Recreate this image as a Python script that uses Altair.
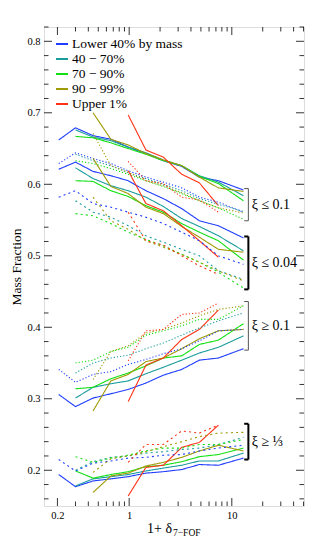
import altair as alt
import pandas as pd

# ---------------- data ----------------
X = [0.206, 0.300, 0.445, 0.663, 0.978, 1.456, 2.15, 3.25, 4.83, 7.40, 12.98]

POPS = ["Lower 40% by mass", "40 − 70%", "70 − 90%", "90 − 99%", "Upper 1%"]
COLORS = ["#1f3dff", "#1a9c9c", "#12e012", "#9f9a05", "#ff3215"]

N = None
# xi <= 0.1 (thin, solid)   order: blue, teal, green, olive, red
le01_solid = [
    [0.662, 0.679, 0.668, 0.663, 0.652, 0.643, 0.633, 0.625, 0.610, 0.605, 0.592],
    [N, 0.676, 0.666, 0.661, 0.652, 0.644, 0.634, 0.626, 0.612, 0.603, 0.584],
    [N, 0.667, 0.665, 0.658, 0.650, 0.642, 0.633, 0.626, 0.611, 0.601, 0.577],
    [N, N, 0.700, 0.663, 0.655, 0.643, 0.634, 0.626, 0.610, 0.595, 0.590],
    [N, N, N, N, 0.697, 0.648, 0.638, 0.614, 0.602, 0.570, N],
]
# xi <= 0.1 (thin, dotted)
le01_dot = [
    [0.629, 0.644, 0.636, 0.629, 0.619, 0.610, 0.603, 0.595, 0.582, 0.575, 0.561],
    [N, 0.642, 0.633, 0.626, 0.616, 0.608, 0.600, 0.591, 0.580, 0.572, 0.562],
    [N, 0.633, 0.629, 0.622, 0.614, 0.605, 0.597, 0.587, 0.577, 0.567, 0.551],
    [N, N, 0.671, 0.626, 0.617, 0.605, 0.598, 0.588, 0.577, 0.567, 0.560],
    [N, N, N, N, 0.632, 0.605, 0.601, 0.582, 0.578, 0.561, N],
]
# xi <= 0.04 (thick, solid)
le004_solid = [
    [0.621, 0.631, 0.618, 0.612, 0.605, 0.591, 0.580, 0.566, 0.549, 0.542, 0.525],
    [N, 0.623, 0.608, 0.598, 0.591, 0.582, 0.569, 0.552, 0.541, 0.528, 0.507],
    [N, 0.605, 0.604, 0.591, 0.583, 0.570, 0.561, 0.545, 0.533, 0.521, 0.494],
    [N, N, 0.636, 0.597, 0.587, 0.568, 0.559, 0.541, 0.526, 0.509, 0.505],
    [N, N, N, N, 0.619, 0.573, 0.563, 0.542, 0.521, 0.498, N],
]
# xi <= 0.04 (thick, dotted)
le004_dot = [
    [0.582, 0.591, 0.573, 0.568, 0.561, 0.554, 0.545, 0.533, 0.521, 0.500, 0.488],
    [N, 0.577, 0.561, 0.554, 0.542, 0.528, 0.519, 0.509, 0.500, 0.479, 0.467],
    [N, 0.559, 0.556, 0.545, 0.533, 0.523, 0.514, 0.502, 0.491, 0.477, 0.455],
    [N, N, 0.582, 0.549, 0.537, 0.521, 0.512, 0.502, 0.491, 0.479, 0.465],
    [N, N, N, N, 0.561, 0.521, 0.515, 0.500, 0.486, 0.474, N],
]
# xi >= 0.1 (thin, solid)
ge01_solid = [
    [0.306, 0.289, 0.301, 0.307, 0.313, 0.322, 0.333, 0.341, 0.354, 0.357, 0.370],
    [N, 0.301, 0.316, 0.321, 0.325, 0.335, 0.344, 0.354, 0.364, 0.372, 0.388],
    [N, 0.314, 0.316, 0.328, 0.336, 0.346, 0.357, 0.360, 0.376, 0.382, 0.405],
    [N, N, 0.283, 0.325, 0.334, 0.352, 0.357, 0.370, 0.384, 0.395, 0.397],
    [N, N, N, N, 0.296, 0.347, 0.357, 0.383, 0.397, 0.424, N],
]
# xi >= 0.1 (thin, dotted)
ge01_dot = [
    [0.341, 0.323, 0.334, 0.338, 0.348, 0.355, 0.363, 0.370, 0.381, 0.395, 0.397],
    [N, 0.336, 0.350, 0.357, 0.361, 0.370, 0.378, 0.389, 0.399, 0.409, 0.420],
    [N, 0.350, 0.354, 0.366, 0.372, 0.389, 0.395, 0.402, 0.411, 0.411, 0.430],
    [N, N, 0.327, 0.366, 0.374, 0.392, 0.397, 0.406, 0.416, 0.425, 0.430],
    [N, N, N, N, 0.353, 0.395, 0.397, 0.418, 0.420, 0.434, N],
]
# xi >= 1/3 (thick, solid)
ge13_solid = [
    [0.194, 0.177, 0.185, 0.188, 0.191, 0.196, 0.198, 0.201, 0.208, 0.207, 0.217],
    [N, 0.178, 0.188, 0.191, 0.194, 0.199, 0.203, 0.207, 0.213, 0.213, 0.224],
    [N, 0.199, 0.189, 0.194, 0.198, 0.205, 0.207, 0.212, 0.219, 0.222, 0.231],
    [N, N, 0.169, 0.192, 0.196, 0.206, 0.211, 0.218, 0.227, 0.235, 0.227],
    [N, N, N, N, 0.164, 0.204, 0.207, 0.232, 0.239, 0.263, N],
]
# xi >= 1/3 (thick, dotted)
ge13_dot = [
    [0.215, 0.199, 0.210, 0.213, 0.217, 0.218, 0.221, 0.222, 0.227, 0.231, 0.235],
    [N, 0.200, 0.212, 0.218, 0.220, 0.224, 0.226, 0.229, 0.231, 0.236, 0.246],
    [N, 0.219, 0.211, 0.217, 0.221, 0.227, 0.231, 0.231, 0.236, 0.236, 0.243],
    [N, N, 0.197, 0.216, 0.220, 0.226, 0.233, 0.240, 0.247, 0.252, 0.253],
    [N, N, N, N, 0.211, 0.236, 0.236, 0.255, 0.252, 0.263, N],
]

BRACKET_LABELS = ["ξ ≤ 0.1", "ξ ≤ 0.04", "ξ ≥ 0.1", "ξ ≥ ⅓"]
Y_TICKS = [0.2, 0.3, 0.4, 0.5, 0.6, 0.7, 0.8]
X_TICKS = [0.2, 1, 10]

# ---------------- build tables ----------------
GROUPS = [
    (0, "thin", "solid", le01_solid), (0, "thin", "dot", le01_dot),
    (1, "thick", "solid", le004_solid), (1, "thick", "dot", le004_dot),
    (2, "thin", "solid", ge01_solid), (2, "thin", "dot", ge01_dot),
    (3, "thick", "solid", ge13_solid), (3, "thick", "dot", ge13_dot),
]
KINDS = ["thin-solid", "thin-dot", "thick-solid", "thick-dot"]

rows = []
ends = {0: [], 1: [], 2: [], 3: []}
for b, w, s, series in GROUPS:
    for pop, ys in zip(POPS, series):
        last = None
        for i, (x, y) in enumerate(zip(X, ys)):
            if y is not None:
                rows.append(dict(x=x, y=y, pop=pop, kind=f"{w}-{s}",
                                 sid=f"{b}-{s}-{pop}", i=i))
                last = y
        ends[b].append(last)
df = pd.DataFrame(rows)

br = pd.DataFrame({
    "label": BRACKET_LABELS,
    "top": [max(ends[k]) + 0.002 for k in range(4)],
    "bot": [min(ends[k]) - 0.002 for k in range(4)],
    "heavy": [0, 1, 0, 1],
})
br["mid"] = (br["top"] + br["bot"]) / 2
br["x0"] = 13.2
br["x1"] = 14.5
br["xt"] = 15.6

y_minor = [round(0.16 + 0.02 * k, 2) for k in range(34)]
y_minor = [v for v in y_minor if v not in Y_TICKS and v <= 0.82]
x_minor = [0.3, 0.4, 0.5, 0.6, 0.7, 0.8, 0.9, 2, 3, 4, 5, 6, 7, 8, 9, 20, 30, 40, 50]

W, H = 260, 479
FONT = "Liberation Serif"
xs = alt.Scale(type="log", domain=[0.148, 50.5], nice=False)
ys = alt.Scale(domain=[0.15, 0.82], nice=False, zero=False)

XAXIS = alt.Axis(
    values=X_TICKS, title=None, ticks=False, tickSize=0, domain=False, grid=False,
    labelExpr="datum.value < 1 ? format(datum.value, '.1f') : format(datum.value, 'd')",
    labelFont=FONT, labelFontSize=10.5, labelColor="black", labelPadding=4)
YAXIS = alt.Axis(
    values=Y_TICKS, format=".1f", title="Mass Fraction", ticks=False, tickSize=0,
    domain=False, grid=False, labelFont=FONT, labelFontSize=10.5,
    labelColor="black", labelPadding=4, titleFont=FONT, titleFontSize=13.5,
    titleFontWeight="normal", titleColor="black", titlePadding=3)

lines = alt.Chart(df).mark_line(strokeCap="butt").encode(
    x=alt.X("x:Q", scale=xs, axis=XAXIS),
    y=alt.Y("y:Q", scale=ys, axis=YAXIS),
    color=alt.Color("pop:N", scale=alt.Scale(domain=POPS, range=COLORS),
                    legend=alt.Legend(title=None, orient="none", legendX=11, legendY=10,
                                      symbolType="stroke", symbolSize=144,
                                      symbolStrokeWidth=2, labelFont=FONT,
                                      labelFontSize=13.5, labelColor="black",
                                      rowPadding=1, labelOffset=3, padding=0,
                                      labelLimit=250)),
    strokeDash=alt.StrokeDash("kind:N", scale=alt.Scale(
        domain=KINDS, range=[[1, 0], [1.2, 2], [1, 0], [2, 3.2]]), legend=None),
    strokeWidth=alt.StrokeWidth("kind:N", scale=alt.Scale(
        domain=KINDS, range=[1.1, 1.1, 2.2, 2.2]), legend=None),
    detail="sid:N",
    order="i:Q",
)


def yticks(vals, length):
    d = pd.DataFrame({"v": vals})
    base = alt.Chart(d).mark_rule(color="black", strokeWidth=0.8)
    left = base.encode(y=alt.Y("v:Q", scale=ys, axis=YAXIS),
                       x=alt.value(0), x2=alt.value(length))
    right = base.encode(y=alt.Y("v:Q", scale=ys, axis=YAXIS),
                        x=alt.value(W - length), x2=alt.value(W))
    return [left, right]


def xticks(vals, length):
    d = pd.DataFrame({"v": vals})
    base = alt.Chart(d).mark_rule(color="black", strokeWidth=0.8)
    bottom = base.encode(x=alt.X("v:Q", scale=xs, axis=XAXIS),
                         y=alt.value(H - length), y2=alt.value(H))
    top = base.encode(x=alt.X("v:Q", scale=xs, axis=XAXIS),
                      y=alt.value(0), y2=alt.value(length))
    return [bottom, top]


ticks = yticks(Y_TICKS, 8) + yticks(y_minor, 4.5) + xticks(X_TICKS, 8) + xticks(x_minor, 4.5)


def bracket(heavy, color, width):
    base = alt.Chart(br).transform_filter(alt.datum.heavy == heavy).mark_rule(
        color=color, strokeWidth=width)
    vert = base.encode(x=alt.X("x1:Q", scale=xs, axis=XAXIS),
                       y=alt.Y("top:Q", scale=ys, axis=YAXIS), y2="bot:Q")
    top = base.encode(x=alt.X("x0:Q", scale=xs, axis=XAXIS), x2="x1:Q",
                      y=alt.Y("top:Q", scale=ys, axis=YAXIS))
    bot = base.encode(x=alt.X("x0:Q", scale=xs, axis=XAXIS), x2="x1:Q",
                      y=alt.Y("bot:Q", scale=ys, axis=YAXIS))
    return [vert, top, bot]


brackets = bracket(0, "#555555", 1.0) + bracket(1, "black", 2.0)
b_text = alt.Chart(br).mark_text(align="left", baseline="middle", font=FONT,
                                 fontSize=14, color="black").encode(
    x=alt.X("xt:Q", scale=xs, axis=XAXIS),
    y=alt.Y("mid:Q", scale=ys, axis=YAXIS),
    text="label:N")

xt_main = alt.Chart(pd.DataFrame({"t": ["1+ δ"]})).mark_text(
    align="right", baseline="alphabetic", font=FONT, fontSize=14, color="black"
).encode(text="t:N", x=alt.value(128), y=alt.value(506))
xt_sub = alt.Chart(pd.DataFrame({"t": ["7−FOF"]})).mark_text(
    align="left", baseline="alphabetic", font=FONT, fontSize=9.5, color="black"
).encode(text="t:N", x=alt.value(129), y=alt.value(509))

chart = alt.layer(*ticks, *brackets, lines, b_text, xt_main, xt_sub).properties(
    width=W, height=H,
    padding={"left": 36, "top": 19, "right": 8, "bottom": 36},
    autosize=alt.AutoSizeParams(type="none"),
).configure_view(stroke="#222222", strokeWidth=1).configure(background="white")

chart.save("out.html", embed_options={"renderer": "svg", "actions": False})
